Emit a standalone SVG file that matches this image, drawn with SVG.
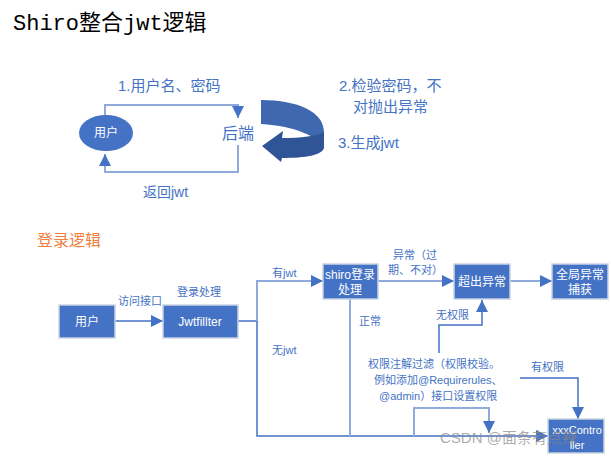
<svg xmlns="http://www.w3.org/2000/svg" width="611" height="457" viewBox="0 0 611 457">
<defs>
<style>
.t{font-family:"Liberation Sans","Noto Sans CJK SC",sans-serif;fill:#4472C4;}
.w{font-family:"Liberation Sans","Noto Sans CJK SC",sans-serif;fill:#ffffff;text-anchor:middle;}
.box{fill:#4472C4;stroke:#C9D3E3;stroke-width:1.5;}
.c1{fill:none;stroke:#8FAADC;stroke-width:2;}
.c2{fill:none;stroke:#4472C4;stroke-width:1.5;}
</style>
<marker id="a" viewBox="0 0 10 10" refX="10" refY="5" markerWidth="12" markerHeight="12" orient="auto" markerUnits="userSpaceOnUse">
<path d="M0,0 L10,5 L0,10 Z" fill="#4472C4"/>
</marker>
</defs>
<rect width="611" height="457" fill="#ffffff"/>
<text x="13" y="30" font-family="Liberation Mono,'Noto Sans CJK SC',monospace" font-size="22" fill="#000">Shiro整合jwt逻辑</text>

<g id="connectors">
<path class="c1" d="M105,115 V105 H238 V118" marker-end="url(#a)"/>
<path class="c1" d="M238,145 V172 H105 V154" marker-end="url(#a)"/>
<path class="c2" d="M115,321 H163" marker-end="url(#a)"/>
<path class="c2" d="M238,321 H257"/>
<path class="c1" d="M257,321 V281 H323" marker-end="url(#a)"/>
<path class="c2" d="M257,321 V436 H548" marker-end="url(#a)"/>
<path class="c1" d="M350,299 V436"/>
<path class="c1" d="M378,281 H454" marker-end="url(#a)"/>
<path class="c1" d="M510,281 H552" marker-end="url(#a)"/>
<path class="c2" d="M439,353 V325 H482 V300" marker-end="url(#a)"/>
<path class="c2" d="M520,378 H578 V419" marker-end="url(#a)"/>
<path class="c1" d="M414,436 V408 H489 V433" marker-end="url(#a)"/>
</g>

<g id="curved-arrow">
<path d="M261,100 C298,100 324,112 324,132 L324,148 C318,137 296,126 261,124 Z" fill="#3F68B1"/>
<path d="M324,132 L324,148 C322,155 306,158 282,158 L281,162 L262,146 L283,131 L282,138 C300,138 318,136 324,132 Z" fill="#2F5597"/>
</g>

<g id="top-user">
<ellipse cx="106" cy="133" rx="27" ry="18" fill="#4472C4"/>
<text class="w" x="106" y="137" font-size="12">用户</text>
</g>
<g id="backend"><text class="t" x="222" y="139" font-size="16">后端</text></g>
<text class="t" x="118" y="91" font-size="15">1.用户名、密码</text>
<text class="t" x="143" y="197" font-size="14">返回jwt</text>
<text class="t" x="339" y="91" font-size="15">2.检验密码，不</text>
<text class="t" x="353" y="112" font-size="15">对抛出异常</text>
<text class="t" x="338" y="148" font-size="15">3.生成jwt</text>

<text x="37" y="246" font-family="Liberation Sans,'Noto Sans CJK SC',sans-serif" font-size="16" fill="#F08040">登录逻辑</text>

<g id="user"><rect class="box" x="59" y="305" width="56" height="33"/><text class="w" x="87" y="326" font-size="12">用户</text></g>
<g id="jwtfilter"><rect class="box" x="163" y="305" width="75" height="33"/><text class="w" x="200" y="326" font-size="12">Jwtfillter</text></g>
<g id="shiro"><rect class="box" x="323" y="264" width="55" height="35"/><text class="w" x="350" y="279" font-size="12">shiro登录</text><text class="w" x="350" y="294" font-size="12">处理</text></g>
<g id="exception"><rect class="box" x="454" y="264" width="56" height="35"/><text class="w" x="482" y="286" font-size="12">超出异常</text></g>
<g id="global"><rect class="box" x="552" y="264" width="56" height="35"/><text class="w" x="580" y="279" font-size="12">全局异常</text><text class="w" x="580" y="294" font-size="12">捕获</text></g>
<g id="controller"><rect class="box" x="548" y="419" width="56" height="34"/><text class="w" x="577" y="434" font-size="11">xxxContro</text><text class="w" x="577" y="449" font-size="11">ller</text></g>

<g font-size="11">
<text class="t" x="118" y="305">访问接口</text>
<text class="t" x="177" y="296">登录处理</text>
<text class="t" x="272" y="277">有jwt</text>
<text class="t" x="272" y="354">无jwt</text>
<text class="t" x="393" y="259">异常（过</text>
<text class="t" x="388" y="274">期、不对）</text>
<text class="t" x="359" y="325">正常</text>
<text class="t" x="436" y="319">无权限</text>
<text class="t" x="368" y="368">权限注解过滤（权限校验。</text>
<text class="t" x="374" y="384">例如添加@Requirerules、</text>
<text class="t" x="379" y="400">@admin）接口设置权限</text>
<text class="t" x="531" y="371">有权限</text>
</g>
<text x="440" y="443" font-family="Liberation Sans,'Noto Sans CJK SC',sans-serif" font-size="15" fill="#888888" fill-opacity="0.7">CSDN @面条有点辣</text>
</svg>
